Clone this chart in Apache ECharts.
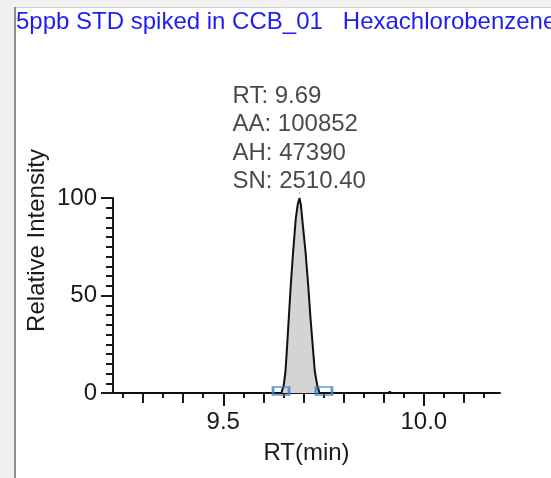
<!DOCTYPE html>
<html>
<head>
<meta charset="utf-8">
<style>
  html, body { margin: 0; padding: 0; background: #ffffff; }
  #chart { width: 551px; height: 478px; }
</style>
<script src="https://cdn.jsdelivr.net/npm/echarts@6/dist/echarts.min.js"></script>
</head>
<body>
<div id="chart"></div>
<script>
// Chromatogram trace: retention time (min) and relative intensity (%)
const rtMin = [9.225, 9.60, 9.645, 9.6508, 9.655, 9.6583, 9.6633, 9.6683, 9.6742, 9.6808, 9.6855, 9.69,
               9.6935, 9.6967, 9.705, 9.7117, 9.7175, 9.7242, 9.7283, 9.7342, 9.74, 9.91, 9.915, 9.92, 10.19];
const intensity = [0, 0, 0, 4.1, 10.9, 21.2, 38.3, 55.4, 72.5, 89.6, 96.5, 100,
                   96.5, 89.6, 72.5, 55.4, 38.3, 21.2, 10.9, 4.1, 0, 0, 0.6, 0, 0];

// Integration start / end markers (retention time, level)
const peakBounds = [[9.644, 1], [9.751, 1]];

// Peak apex and its annotation values
const apexRt = 9.69;
const apexIntensity = 100;
const peakInfo = { RT: '9.69', AA: '100852', AH: '47390', SN: '2510.40' };

// Axis tick positions
const xLabelTicks = [9.5, 10.0];
const xTenthTicks = [9.3, 9.4, 9.6, 9.7, 9.8, 9.9, 10.1];
const xHalfTenthTicks = [9.25, 9.35, 9.45, 9.55, 9.65, 9.75, 9.85, 9.95, 10.05, 10.15];

const titleText = '5ppb STD spiked in CCB_01   Hexachlorobenzene';

const FONT = 'Liberation Sans, Arial, sans-serif';
const FS = 24;
const INK = '#1a1a1a';
const X_MIN = 9.225, X_MAX = 10.19;

const chart = echarts.init(document.getElementById('chart'), null, { renderer: 'canvas' });

const baseX = {
  type: 'value', min: X_MIN, max: X_MAX, position: 'bottom', gridIndex: 0,
  splitLine: { show: false },
  axisLabel: { show: false },
  axisLine: { show: false }
};

const option = {
  backgroundColor: '#ffffff',
  animation: false,
  title: {
    text: titleText,
    left: 16, top: 10, padding: 0,
    textStyle: { color: '#1e1ef2', fontSize: FS, fontWeight: 'normal', fontFamily: FONT }
  },
  graphic: [
    { type: 'rect', shape: { x: 0, y: 0, width: 551, height: 7 }, style: { fill: '#f0f0f0' }, z: 100 },
    { type: 'rect', shape: { x: 0, y: 0, width: 14, height: 478 }, style: { fill: '#f0f0f0' }, z: 100 },
    { type: 'line', shape: { x1: 14, y1: 7.5, x2: 551, y2: 7.5 }, style: { stroke: '#cfcfcf', lineWidth: 1 }, z: 100 },
    { type: 'line', shape: { x1: 15, y1: 7, x2: 15, y2: 478 }, style: { stroke: '#909090', lineWidth: 2 }, z: 100 }
  ],
  grid: { left: 113, right: 51, top: 198, bottom: 85, containLabel: false },
  xAxis: [
    Object.assign({}, baseX, {
      axisLine: { show: true, onZero: false, lineStyle: { color: INK, width: 2 } },
      axisTick: { show: true, customValues: xLabelTicks, length: 13, lineStyle: { color: INK, width: 2 } },
      axisLabel: {
        show: true, customValues: xLabelTicks, margin: 17,
        formatter: v => v.toFixed(1),
        color: INK, fontSize: FS, fontFamily: FONT
      },
      name: 'RT(min)', nameLocation: 'middle', nameGap: 48,
      nameTextStyle: { color: INK, fontSize: FS, fontFamily: FONT }
    }),
    Object.assign({}, baseX, {
      axisTick: { show: true, customValues: xTenthTicks, length: 10, lineStyle: { color: INK, width: 2 } }
    }),
    Object.assign({}, baseX, {
      axisTick: { show: true, customValues: xHalfTenthTicks, length: 5, lineStyle: { color: INK, width: 2 } }
    })
  ],
  yAxis: {
    type: 'value', min: 0, max: 100, interval: 50,
    axisLine: { show: true, onZero: false, lineStyle: { color: INK, width: 2 } },
    axisTick: { show: true, length: 12, lineStyle: { color: INK, width: 2 } },
    minorTick: { show: true, splitNumber: 10, length: 7, lineStyle: { color: INK, width: 2 } },
    splitLine: { show: false },
    minorSplitLine: { show: false },
    axisLabel: { margin: 16, color: INK, fontSize: FS, fontFamily: FONT },
    name: 'Relative Intensity', nameLocation: 'middle', nameRotate: 90, nameGap: 64,
    nameMoveOverlap: false,
    nameTextStyle: { color: INK, fontSize: FS, fontFamily: FONT, padding: [0, 0, 0, 110] }
  },
  series: [
    {
      type: 'line', xAxisIndex: 0,
      data: rtMin.map((t, i) => [t, intensity[i]]),
      showSymbol: false, symbol: 'none', smooth: false,
      lineStyle: { color: '#111111', width: 2 },
      areaStyle: { color: '#d4d4d4', opacity: 1 },
      z: 2
    },
    {
      type: 'scatter', xAxisIndex: 0,
      data: peakBounds,
      symbol: 'rect', symbolSize: [16, 8],
      itemStyle: { color: 'rgba(0,0,0,0)', borderColor: '#3f7fc2', borderWidth: 2 },
      z: 3
    },
    {
      type: 'scatter', xAxisIndex: 0,
      data: [[apexRt, apexIntensity]],
      symbol: 'circle', symbolSize: 2, symbolOffset: [0, -5],
      itemStyle: { color: '#8fb6e3' },
      label: {
        show: true,
        position: [-66, -110],
        align: 'left', verticalAlign: 'top',
        formatter: () => ['RT: ' + peakInfo.RT, 'AA: ' + peakInfo.AA, 'AH: ' + peakInfo.AH, 'SN: ' + peakInfo.SN].join('\n'),
        color: INK, fontSize: FS, lineHeight: 28.5, fontFamily: FONT
      },
      z: 4
    }
  ]
};

chart.setOption(option);
</script>
</body>
</html>
